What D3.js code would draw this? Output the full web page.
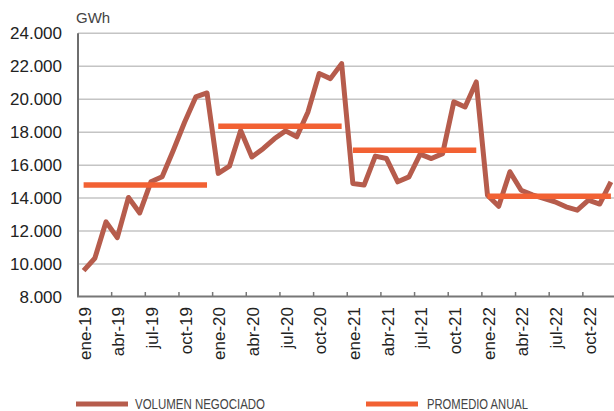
<!DOCTYPE html>
<html><head><meta charset="utf-8">
<script src="https://cdn.jsdelivr.net/npm/d3@7"></script>
<style>body{margin:0;background:#fff}svg{display:block}</style>
</head><body>
<svg id="c" width="614" height="411"></svg>
<script>
const monthNames = ["ene","feb","mar","abr","may","jun","jul","ago","sep","oct","nov","dic"];
const years = ["19","20","21","22"];
const volumen2019 = [9600,10350,12560,11600,14040,13100,14990,15300,16900,18600,20140,20380];
const volumen2020 = [15500,15940,18100,16500,17000,17600,18080,17720,19230,21560,21250,22160];
const volumen2021 = [14890,14790,16550,16400,14990,15290,16670,16400,16700,19840,19530,21050];
const volumen2022 = [14180,13500,15600,14480,14200,13980,13780,13470,13270,13880,13640,14990];
const promedioAnual = [14800,18360,16900,14120];
const yTicks = [8000,10000,12000,14000,16000,18000,20000,22000,24000];

const categories = [];
years.forEach(y => monthNames.forEach(m => categories.push(m + "-" + y)));
const volumen = [].concat(volumen2019, volumen2020, volumen2021, volumen2022);

const svg = d3.select("#c");
const L = 78, R = 616.5, T = 33.3, B = 297;
const x = d3.scaleBand().domain(categories).range([L, R]).paddingInner(0).paddingOuter(0);
const y = d3.scaleLinear().domain([8000, 24000]).range([B, T]);
const cx = c => x(c) + x.bandwidth() / 2;
const fmtTick = v => { const s = String(v); return s.slice(0, s.length - 3) + "." + s.slice(-3); };

// gridlines
svg.append("g").selectAll("line").data(yTicks.filter(d => d > 8000)).join("line")
  .attr("x1", L).attr("x2", 614).attr("y1", d => y(d)).attr("y2", d => y(d))
  .attr("stroke", "#c4c4c4").attr("stroke-width", 1.5);

// y labels
svg.append("g").selectAll("text").data(yTicks).join("text")
  .attr("x", 62).attr("y", d => y(d)).attr("dy", "0.36em")
  .attr("text-anchor", "end")
  .attr("font-family", "Liberation Sans, Arial, sans-serif").attr("font-size", 17)
  .attr("fill", "#222").text(fmtTick);

svg.append("text").attr("x", 76).attr("y", 22.5)
  .attr("font-family", "Liberation Sans, Arial, sans-serif").attr("font-size", 15)
  .attr("fill", "#444").text("GWh");

// x ticks (every 3 months, inward)
const tickCats = categories.filter((c, i) => i % 3 === 0 && i > 0);
svg.append("g").selectAll("line").data(tickCats).join("line")
  .attr("x1", d => x(d)).attr("x2", d => x(d)).attr("y1", B).attr("y2", B - 5)
  .attr("stroke", "#777").attr("stroke-width", 1.5);

// axes
svg.append("line").attr("x1", L).attr("x2", L).attr("y1", T).attr("y2", B)
  .attr("stroke", "#6e6e6e").attr("stroke-width", 2);
svg.append("line").attr("x1", L - 1).attr("x2", 614).attr("y1", B - 0.5).attr("y2", B - 0.5)
  .attr("stroke", "#777").attr("stroke-width", 2);

// x labels
const labelCats = categories.filter((c, i) => i % 3 === 0);
svg.append("g").selectAll("text").data(labelCats).join("text")
  .attr("transform", d => `translate(${cx(d) + 1},307) rotate(-90)`)
  .attr("dy", "0.36em").attr("text-anchor", "end")
  .attr("font-family", "Liberation Sans, Arial, sans-serif").attr("font-size", 17)
  .attr("fill", "#222").text(d => d);

// main line
const line = d3.line().x((d, i) => cx(categories[i])).y(d => y(d));
svg.append("path").datum(volumen).attr("d", line)
  .attr("fill", "none").attr("stroke", "#b65c4c").attr("stroke-width", 5)
  .attr("stroke-linejoin", "round");

// averages (drawn over the line)
svg.append("g").selectAll("line").data(promedioAnual).join("line")
  .attr("x1", (d, i) => cx(categories[i * 12]))
  .attr("x2", (d, i) => cx(categories[i * 12 + 11]))
  .attr("y1", d => y(d)).attr("y2", d => y(d))
  .attr("stroke", "#f26133").attr("stroke-width", 5.5);

// legend
const lg = svg.append("g").attr("font-family", "Liberation Sans Narrow, Liberation Sans, Arial, sans-serif")
  .attr("font-size", 14).attr("fill", "#444");
lg.append("rect").attr("x", 76).attr("y", 401.5).attr("width", 52).attr("height", 5).attr("fill", "#b65c4c");
lg.append("text").attr("x", 135).attr("y", 408.5)
  .attr("textLength", 130).attr("lengthAdjust", "spacingAndGlyphs").text("VOLUMEN NEGOCIADO");
lg.append("rect").attr("x", 366).attr("y", 401.5).attr("width", 52).attr("height", 5).attr("fill", "#f26133");
lg.append("text").attr("x", 427).attr("y", 408.5)
  .attr("textLength", 101).attr("lengthAdjust", "spacingAndGlyphs").text("PROMEDIO ANUAL");
</script>
</body></html>
